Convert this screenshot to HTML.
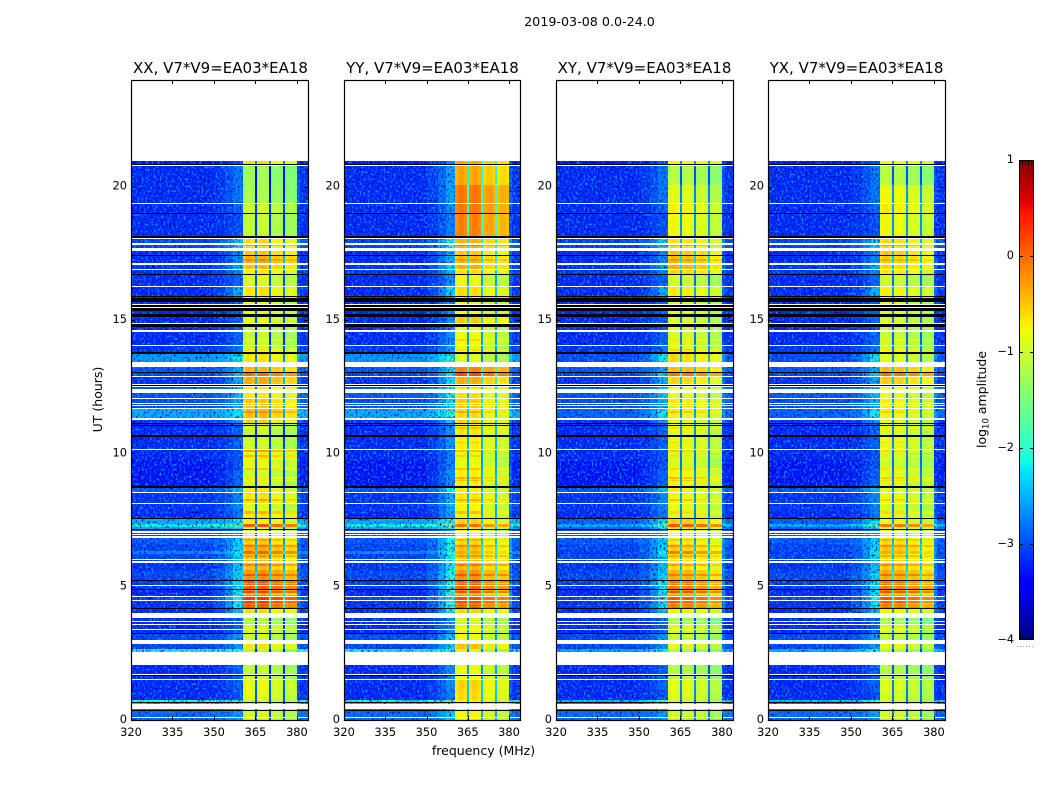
<!DOCTYPE html>
<html lang="en">
<head>
<meta charset="utf-8">
<title>2019-03-08 0.0-24.0</title>
<style>
  html, body { margin: 0; padding: 0; background: #fff; width: 1050px; height: 800px; overflow: hidden; }
  svg { display: block; font-family: "DejaVu Sans", "Liberation Sans", sans-serif; fill: #000; }
  .tick-text { font-size: 11.4px; }
  .panel-title { font-size: 15px; }
  .axis-title { font-size: 12.5px; }
</style>
</head>
<body>
<svg id="chart" xmlns="http://www.w3.org/2000/svg" width="1050" height="800" viewBox="0 0 1050 800">
  <defs>
    <filter id="speck-light" x="0" y="0" width="1" height="1" color-interpolation-filters="sRGB">
      <feTurbulence type="fractalNoise" baseFrequency="0.5 0.42" numOctaves="1" seed="3"/>
      <feColorMatrix type="matrix" values="0 0 0 0 0  0 0 0 0 .6  0 0 0 0 1  4 0 0 0 -2"/>
    </filter>
    <filter id="speck-dark" x="0" y="0" width="1" height="1" color-interpolation-filters="sRGB">
      <feTurbulence type="fractalNoise" baseFrequency="0.5 0.42" numOctaves="1" seed="11"/>
      <feColorMatrix type="matrix" values="0 0 0 0 0  0 0 0 0 0  0 0 0 0 .6  0 3.4 0 0 -1.8"/>
    </filter>
  </defs>
  <text x="589.5" y="26" text-anchor="middle" style="font-size:12.7px">2019-03-08 0.0-24.0</text>
  <text class="panel-title" x="220.5" y="73" text-anchor="middle">XX, V7*V9=EA03*EA18</text>
  <text class="panel-title" x="432.5" y="73" text-anchor="middle">YY, V7*V9=EA03*EA18</text>
  <text class="panel-title" x="644.5" y="73" text-anchor="middle">XY, V7*V9=EA03*EA18</text>
  <text class="panel-title" x="856.5" y="73" text-anchor="middle">YX, V7*V9=EA03*EA18</text>
  <text class="axis-title" x="0" y="0" text-anchor="middle" transform="translate(102 399.5) rotate(-90)">UT (hours)</text>
  <text class="axis-title" x="483.5" y="755" text-anchor="middle">frequency (MHz)</text>
  <text class="axis-title" x="0" y="0" text-anchor="middle" transform="translate(986 399.5) rotate(-90)">log<tspan dy="2.5" font-size="8.5">10</tspan><tspan dy="-2.5"> amplitude</tspan></text>
  <g id="panels"></g>
  <g id="colorbar"></g>
</svg>
<script>
// Upper edge (UT hours) of each time band, bottom to top
const bandTop = [.5,.64,.75,1.125,1.5,2.06,2.65,2.84,3.25,3.6,3.83,4.15,4.46,4.64,4.89,5.22,5.63,6.05,6.225,6.34,6.6,6.9,7.15,7.24,7.34,7.59,7.84,8.13,8.55,8.79,9.375,9.75,10.16,10.68,11.11,11.325,11.7,12.075,12.5,12.9,13.06,13.425,13.79,14.07,14.85,15.225,15.9,16.29,16.74,16.91,17.13,17.44,17.71,18.15,18.98,19.39,20.06,20.83,20.96];
// Out-of-band log10 amplitude per band
const bandBg = [-2.85,-2.3,-2.0,-3.2,-3.2,-3.2,-2.1,-3.05,-3.05,-3.2,-3.2,-3.2,-3.15,-3.05,-3.2,-3.1,-3.05,-3.15,-3.05,-2.7,-3.05,-2.95,-3.05,-2.5,-2.1,-2.5,-3.2,-3.15,-3.15,-2.95,-3.3,-3.3,-3.2,-3.2,-3.2,-3.15,-2.5,-3.0,-2.95,-3.15,-3.05,-2.95,-2.6,-3.15,-3.2,-3.2,-3.2,-3.2,-3.2,-3.15,-3.15,-3.2,-3.2,-3.05,-3.2,-3.2,-3.2,-3.2,-3.3];
// Band-edge log10 amplitude just below the receiver passband
const bandEdge = [-2.6,-2,-1.8,-3,-2.9,-2.9,-2,-2.6,-2.6,-2.9,-2.9,-2.4,-2.2,-2.1,-2.2,-2.2,-2.3,-2.4,-2.3,-2.1,-2.3,-2.3,-2.7,-2.2,-1.8,-2.2,-2.8,-2.7,-2.7,-2.4,-2.9,-3,-3,-2.9,-2.9,-2.6,-2.2,-2.5,-2.4,-2.5,-2.4,-2.5,-2.2,-2.8,-2.9,-2.9,-2.9,-2.5,-2.9,-2.7,-2.5,-2.7,-2.7,-2.3,-3,-2.9,-2.8,-2.8,-3];
// In-band log10 amplitude per band, per polarisation
const levelXX = [-.95,-1,-1,-.85,-.8,-1.05,-1.2,-.65,-1,-.9,-1.15,-.6,.25,.3,-.1,.1,-.2,-.45,-.5,.05,-.35,-.55,-.9,-.9,.15,-.75,-.7,-.9,-.65,-.7,-1,-.85,-.7,-1,-1.05,-.55,-.45,-.5,-.7,-.35,0,-.4,-.65,-.9,-1.05,-.85,-.9,-.65,-.9,-.7,-.45,-.35,-.5,-.6,-1.05,-.95,-1.2,-1.25,-.6];
const levelYY = [-.75,-.7,-.7,-.6,-.55,-.8,-1,-.45,-.8,-.75,-.95,-.55,.2,.2,-.15,.05,-.2,-.4,-.5,-.3,-.45,-.6,-.8,-.7,0,-.55,-.75,-.75,-.65,-.7,-.7,-.8,-.85,-.7,-.65,-.55,-.6,-.5,-.6,-.35,.2,-.1,-.9,-.85,-.8,-.5,-.8,-.6,-.8,-.6,-.35,-.4,-.5,-.38,-.1,-.05,-.05,-.3,-.3];
const levelXY = [-.95,-.95,-.95,-.85,-.8,-1.1,-1.2,-.8,-1,-.85,-1.2,-.7,.1,.15,-.15,-.05,-.35,-.6,-.6,-.05,-.5,-.7,-.8,-.6,.15,-.5,-.85,-.8,-.75,-.7,-.75,-.9,-.9,-.8,-.8,-.8,-.7,-.65,-.8,-.55,0,-.4,-.55,-.8,-.9,-.9,-.9,-.65,-.95,-.55,-.35,-.4,-.45,-.6,-.75,-.7,-.85,-1.1,-.7];
const levelYX = [-.95,-.95,-.95,-.9,-.85,-1.1,-1.2,-.8,-1,-.85,-1.2,-.7,.1,.15,-.15,-.05,-.3,-.5,-.6,-.3,-.45,-.6,-.85,-.7,0,-.8,-.85,-.9,-.8,-.8,-.85,-.95,-.95,-.8,-.85,-.8,-.75,-.7,-.8,-.5,0,-.4,-.85,-.9,-1,-.9,-.9,-.7,-.95,-.65,-.55,-.5,-.5,-.58,-.75,-.65,-.75,-1.1,-.7];
// Narrow time stripes inside the passband: start hour, end hour, amplitude change
const stripeStart = [4.25,4.32,4.7,4.78,5.1,5.4,5.78,6.12,6.5,6.72,7.74,8.22,8.95,9.05,9.38,9.87,10.05,10.38,10.92,11.52,13.85,14.22,17.22,17.78];
const stripeEnd = [4.29,4.38,4.75,4.84,5.14,5.47,5.84,6.18,6.56,6.78,7.82,8.3,9,9.11,9.45,9.93,10.12,10.44,10.98,11.58,13.92,14.3,17.3,17.84];
const stripeDelta = [-.3,-.3,-.3,.35,-.35,.35,.35,.3,.3,.25,.3,.3,.3,.35,.35,.3,.4,.2,.2,.25,.25,.25,.2,.3];
// Flagged time ranges (UT hours): NaN samples show white, zero samples show black
const whiteGaps = [[.06,.11],[.42,.6],[1.49,1.54],[1.71,1.74],[2.06,2.56],[2.84,2.91],[2.94,3.01],[3.4,3.42],[3.56,3.6],[3.675,3.71],[3.825,4.02],[4.46,4.49],[4.61,4.64],[5.025,5.06],[5.87,5.95],[6.01,6.05],[6.84,6.9],[6.94,6.975],[7.02,7.08],[8.1,8.13],[8.52,8.55],[10.125,10.16],[11.24,11.325],[11.66,11.7],[11.775,11.81],[11.85,11.875],[12.04,12.075],[12.26,12.42],[12.5,12.525],[12.55,12.59],[12.86,12.9],[13.24,13.425],[14.025,14.07],[14.55,14.61],[14.85,14.9],[15.44,15.475],[15.55,15.6],[16.26,16.29],[16.875,16.91],[17.08,17.13],[17.57,17.71],[17.83,17.875],[18.04,18.09],[19.35,19.39],[20.81,20.83]];
const blackGaps = [[.35,.375],[.64,.675],[1.64,1.68],[3.25,3.27],[4.15,4.19],[4.89,4.91],[5.22,5.25],[7.15,7.17],[7.54,7.59],[8.7,8.79],[10.62,10.68],[11.05,11.07],[11.11,11.14],[12.525,12.55],[13.04,13.06],[13.725,13.79],[14.73,14.85],[15.1,15.225],[15.34,15.44],[15.475,15.55],[15.675,15.84],[15.86,15.9],[16.69,16.74],[17.4,17.44],[18.09,18.15],[18.975,19.01],[20.83,20.86]];
// Frequency channels (MHz edges) and how each channel reads the band values
const channelEdges = [320,335,350,354,357,360.5,361.5,363.5,364.8,365.5,366.5,368.9,369.9,370.6,371.6,374,375,375.7,376.7,379,380,381,384];
const channelSpw = [-1,-1,-1,-1,-1,0,0,0,-2,1,1,1,-2,2,2,2,-2,3,3,3,-1,-1];
const channelEdgeWeight = [0,0,.2,.55,1,0,0,0,0,0,0,0,0,0,0,0,0,0,0,0,.5,.1];
const channelShape = [0,0,0,0,0,-.12,0,-.08,0,-.08,0,-.08,0,-.08,0,-.08,0,-.08,0,-.06,0,0];
// Per-polarisation spectral-window offsets, notch depth and edge lift
const spwOffsetXX = [0,.02,-.12,-.22];
const spwOffsetYY = [0,0,-.22,-.3];
const spwOffsetXY = [0,-.05,-.15,-.3];
const spwOffsetYX = [0,-.05,-.15,-.28];
const notchDrop = [-2.1,-1.8,-1.9,-1.9];
const edgeLift = [0,.25,0,0];
// How much of a bright out-of-band row survives in each polarisation
const brightRowDrop = [0,0,.4,.4];
// Axis ticks and labels
const freqTicks = [320,335,350,365,380];
const timeTicks = [0,5,10,15,20];
const colorTicks = [1,0,-1,-2,-3,-4];

const NS = 'http://www.w3.org/2000/svg';
const panelLeft = [131,344,556,768];
const panelWidth = [177,176,177,177];
const plotTop = 80, plotBottom = 720;
const FREQ_MIN = 320, FREQ_MAX = 384, TIME_MAX = 24, C_MIN = -4, C_MAX = 1;
const levels = [levelXX,levelYY,levelXY,levelYX];
const spwOffsets = [spwOffsetXX,spwOffsetYY,spwOffsetXY,spwOffsetYX];
const panelKeys = ['xx','yy','xy','yx'];

function xScale(panel, f) { return panelLeft[panel] + (f - FREQ_MIN) * panelWidth[panel] / (FREQ_MAX - FREQ_MIN); }
function yScale(h) { return plotBottom - h * (plotBottom - plotTop) / TIME_MAX; }
function jetPart(t, pts) {
  for (let i = 1; i < pts.length; i++) {
    if (t <= pts[i][0]) {
      const a = pts[i-1], b = pts[i];
      return a[1] + (b[1]-a[1]) * (t-a[0]) / (b[0]-a[0]);
    }
  }
  return pts[pts.length-1][1];
}
function jet(v) {
  const t = Math.max(0, Math.min(1, (v - C_MIN) / (C_MAX - C_MIN)));
  const r = jetPart(t, [[0,0],[.35,0],[.66,1],[.89,1],[1,.5]]);
  const g = jetPart(t, [[0,0],[.125,0],[.375,1],[.64,1],[.91,0],[1,0]]);
  const b = jetPart(t, [[0,.5],[.11,1],[.34,1],[.65,0],[1,0]]);
  return 'rgb(' + Math.round(r*255) + ',' + Math.round(g*255) + ',' + Math.round(b*255) + ')';
}
function svgEl(tag, parent) {
  const el = document.createElementNS(NS, tag);
  parent.appendChild(el);
  return el;
}
function setRect(el, x0, y0, x1, y1) {
  const xa = Math.round(x0), xb = Math.round(x1), ya = Math.round(y0), yb = Math.round(y1);
  el.setAttribute('x', xa);
  el.setAttribute('y', ya);
  el.setAttribute('width', Math.max(1, xb - xa));
  el.setAttribute('height', Math.max(1, yb - ya));
  el.setAttribute('shape-rendering', 'crispEdges');
}
function cellValue(p, b, c) {
  const spw = channelSpw[c];
  const level = levels[p][b];
  if (spw >= 0) return level + spwOffsets[p][spw] + channelShape[c];
  if (spw === -2) return level + notchDrop[p];
  const bg = bandBg[b] > -2.8 ? bandBg[b] - brightRowDrop[p] : bandBg[b];
  const edge = bandEdge[b] + edgeLift[p];
  return bg + (edge - bg) * channelEdgeWeight[c];
}
function bandAt(h) {
  for (let b = 0; b < bandTop.length; b++) { if (h < bandTop[b]) return b; }
  return bandTop.length - 1;
}

const panelsRoot = document.getElementById('panels');
panelLeft.forEach(function (left, p) {
  const g = svgEl('g', panelsRoot);
  
  
  const right = left + panelWidth[p];

  // heatmap cells
  bandTop.forEach(function (top, b) {
    const bottom = b === 0 ? 0 : bandTop[b-1];
    for (let c = 0; c < channelSpw.length; c++) {
      const cell = svgEl('rect', g);
      
      
      setRect(cell, xScale(p, channelEdges[c]), yScale(top), xScale(p, channelEdges[c+1]), yScale(bottom));
      cell.setAttribute('fill', jet(cellValue(p, b, c)));
    }
  });

  // narrow in-band time stripes
  stripeStart.forEach(function (start, s) {
    const b = bandAt(start);
    for (let c = 0; c < channelSpw.length; c++) {
      if (channelSpw[c] < 0) continue;
      const cell = svgEl('rect', g);
      
      
      setRect(cell, xScale(p, channelEdges[c]), yScale(stripeEnd[s]), xScale(p, channelEdges[c+1]), yScale(start));
      cell.setAttribute('fill', jet(cellValue(p, b, c) + stripeDelta[s]));
    }
  });

  // pixel-scale noise texture over the out-of-band channels
  [[FREQ_MIN, 360.5], [380, FREQ_MAX]].forEach(function (range) {
    ['speck-light', 'speck-dark'].forEach(function (id) {
      const speck = svgEl('rect', g);
      
      
      setRect(speck, xScale(p, range[0]), yScale(bandTop[bandTop.length-1]), xScale(p, range[1]), yScale(0));
      speck.setAttribute('filter', 'url(#' + id + ')');
    });
  });

  // flagged rows
  whiteGaps.forEach(function (gap) {
    const row = svgEl('rect', g);
    
    
    setRect(row, left, yScale(gap[1]), right, yScale(gap[0]));
    row.setAttribute('fill', '#fff');
  });
  blackGaps.forEach(function (gap) {
    const row = svgEl('rect', g);
    
    
    setRect(row, left, yScale(gap[1]), right, yScale(gap[0]));
    row.setAttribute('fill', '#000');
  });
  // blank region above the last band
  const blank = svgEl('rect', g);
  
  
  setRect(blank, left, plotTop, right, yScale(bandTop[bandTop.length-1]));
  blank.setAttribute('fill', '#fff');

  // ticks and labels
  freqTicks.forEach(function (f) {
    const x = Math.round(xScale(p, f)) + .5;
    [[plotBottom, plotBottom - 4], [plotTop, plotTop + 4]].forEach(function (ends) {
      const tick = svgEl('line', g);
      
      
      tick.setAttribute('x1', x);
      tick.setAttribute('x2', x);
      tick.setAttribute('y1', ends[0]);
      tick.setAttribute('y2', ends[1]);
      tick.setAttribute('stroke', '#000');
    });
    const label = svgEl('text', g);
    
    
    label.setAttribute('class', 'tick-text');
    label.setAttribute('x', xScale(p, f));
    label.setAttribute('y', 736);
    label.setAttribute('text-anchor', 'middle');
    label.textContent = String(f);
  });
  timeTicks.forEach(function (h) {
    const y = Math.round(yScale(h)) + .5;
    [[left, left + 4], [right, right - 4]].forEach(function (ends) {
      const tick = svgEl('line', g);
      
      
      tick.setAttribute('x1', ends[0]);
      tick.setAttribute('x2', ends[1]);
      tick.setAttribute('y1', y);
      tick.setAttribute('y2', y);
      tick.setAttribute('stroke', '#000');
    });
    const label = svgEl('text', g);
    
    
    label.setAttribute('class', 'tick-text');
    label.setAttribute('x', left - 4);
    label.setAttribute('y', yScale(h) + 3);
    label.setAttribute('text-anchor', 'end');
    label.textContent = String(h);
  });

  // frame
  const frame = svgEl('rect', g);
  
  
  frame.setAttribute('x', left + .5);
  frame.setAttribute('y', plotTop + .5);
  frame.setAttribute('width', panelWidth[p]);
  frame.setAttribute('height', plotBottom - plotTop);
  frame.setAttribute('fill', 'none');
  frame.setAttribute('stroke', '#000');
  frame.setAttribute('stroke-width', '1.2');
});

// colorbar
const cbRoot = document.getElementById('colorbar');
const cbLeft = 1019, cbWidth = 15, cbTop = 160, cbBottom = 640;
function cbScale(v) { return cbBottom - (v - C_MIN) * (cbBottom - cbTop) / (C_MAX - C_MIN); }
for (let y = cbTop; y < cbBottom; y++) {
  const strip = svgEl('rect', cbRoot);
  
  
  strip.setAttribute('x', cbLeft);
  strip.setAttribute('y', y);
  strip.setAttribute('width', cbWidth);
  strip.setAttribute('height', 1);
  strip.setAttribute('shape-rendering', 'crispEdges');
  strip.setAttribute('fill', jet(C_MAX - (y + .5 - cbTop) * (C_MAX - C_MIN) / (cbBottom - cbTop)));
}
colorTicks.forEach(function (v) {
  const y = Math.round(cbScale(v)) + .5;
  if (v < C_MAX && v > C_MIN) {
    [[cbLeft, cbLeft + 4], [cbLeft + cbWidth, cbLeft + cbWidth - 4]].forEach(function (ends) {
      const tick = svgEl('line', cbRoot);
      
      
      tick.setAttribute('x1', ends[0]);
      tick.setAttribute('x2', ends[1]);
      tick.setAttribute('y1', y);
      tick.setAttribute('y2', y);
      tick.setAttribute('stroke', '#000');
    });
  }
  const label = svgEl('text', cbRoot);
  
  
  label.setAttribute('class', 'tick-text');
  label.setAttribute('x', cbLeft - 5);
  label.setAttribute('y', cbScale(v) + 3);
  label.setAttribute('text-anchor', 'end');
  label.textContent = String(v).replace('-', '\u2212');
});
// short end ticks along the top and bottom of the colorbar
for (let i = 1; i <= 4; i++) {
  [[cbTop, cbTop + 5], [cbBottom, cbBottom - 5]].forEach(function (ends) {
    const tick = svgEl('line', cbRoot);
    
    
    tick.setAttribute('x1', cbLeft + i * 3 + .5);
    tick.setAttribute('x2', cbLeft + i * 3 + .5);
    tick.setAttribute('y1', ends[0]);
    tick.setAttribute('y2', ends[1]);
    tick.setAttribute('stroke', '#000');
  });
}
const cbFrame = svgEl('rect', cbRoot);


cbFrame.setAttribute('x', cbLeft + .5);
cbFrame.setAttribute('y', cbTop + .5);
cbFrame.setAttribute('width', cbWidth - 1);
cbFrame.setAttribute('height', cbBottom - cbTop - 1);
cbFrame.setAttribute('fill', 'none');
cbFrame.setAttribute('stroke', '#000');
cbFrame.setAttribute('shape-rendering', 'crispEdges');
const cbDots = svgEl('line', cbRoot);


cbDots.setAttribute('x1', cbLeft - 2);
cbDots.setAttribute('x2', cbLeft + cbWidth + 1);
cbDots.setAttribute('y1', 646.5);
cbDots.setAttribute('y2', 646.5);
cbDots.setAttribute('stroke', '#999');
cbDots.setAttribute('stroke-dasharray', '1 2');
</script>
</body>
</html>
